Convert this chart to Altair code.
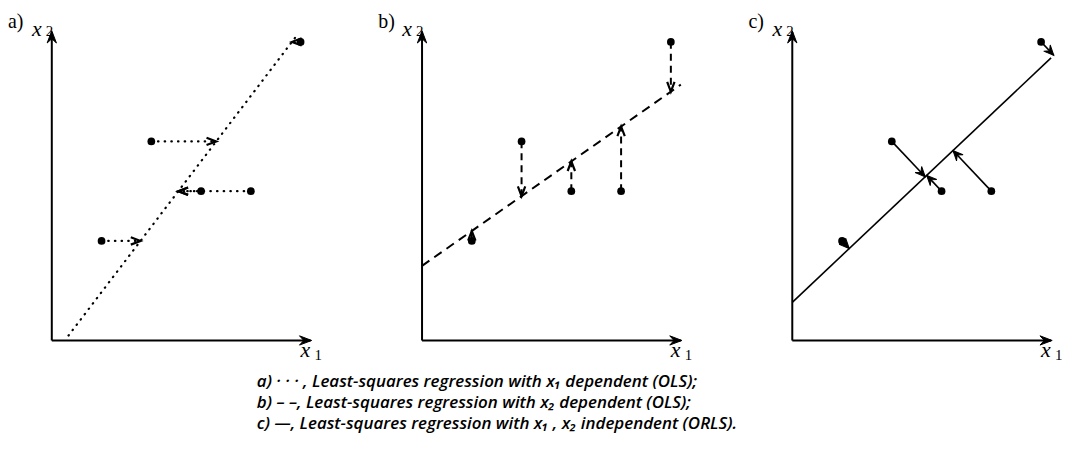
import numpy as np
import pandas as pd
import altair as alt

# ---- data (same five points in all panels) ----
X1 = [5, 10, 15, 20, 25]
X2 = [10, 20, 15, 15, 30]
LINE_A_X2 = [0.5, 30.5]   # extent of the x1-on-x2 fit line (along x2)
LINE_B_X1 = [0.0, 26.0]   # extent of the x2-on-x1 fit line (along x1)
LINE_C_X1 = [0.0, 26.0]   # extent of the orthogonal fit line (along x1)
AXIS_END = [26.0, 31.0]   # lengths of the x1 and x2 axes
PANEL_LABELS = ["a)", "b)", "c)"]
CAPTION = [
    "a) \u00b7 \u00b7 \u00b7 , Least-squares regression with x\u2081 dependent (OLS);",
    "b) \u2013 \u2013, Least-squares regression with x\u2082 dependent (OLS);",
    "c) \u2014, Least-squares regression with x\u2081 , x\u2082 independent (ORLS).",
]

# ---- regressions ----
x = np.array(X1, float)
y = np.array(X2, float)
mx, my = x.mean(), y.mean()
sxx = ((x - mx) ** 2).sum()
syy = ((y - my) ** 2).sum()
sxy = ((x - mx) * (y - my)).sum()

# a) x1 dependent
ba = sxy / syy
line_a = pd.DataFrame({"xa": [mx + ba * (LINE_A_X2[0] - my)], "ya": [LINE_A_X2[0]],
                       "xb": [mx + ba * (LINE_A_X2[1] - my)], "yb": [LINE_A_X2[1]]})
proj_a = (mx + ba * (y - my), y)

# b) x2 dependent
mb = sxy / sxx
line_b = pd.DataFrame({"xa": [LINE_B_X1[0]], "ya": [my + mb * (LINE_B_X1[0] - mx)],
                       "xb": [LINE_B_X1[1]], "yb": [my + mb * (LINE_B_X1[1] - mx)]})
proj_b = (x, my + mb * (x - mx))

# c) orthogonal
mc = (syy - sxx + np.sqrt((syy - sxx) ** 2 + 4 * sxy ** 2)) / (2 * sxy)
u0, u1 = 1 / np.sqrt(1 + mc ** 2), mc / np.sqrt(1 + mc ** 2)
t = (x - mx) * u0 + (y - my) * u1
line_c = pd.DataFrame({"xa": [LINE_C_X1[0]], "ya": [my + mc * (LINE_C_X1[0] - mx)],
                       "xb": [LINE_C_X1[1]], "yb": [my + mc * (LINE_C_X1[1] - mx)]})
proj_c = (mx + t * u0, my + t * u1)


def residuals(proj):
    px, py = proj
    ang = np.degrees(np.arctan2(px - x, py - y)) % 360
    return pd.DataFrame({"x": x, "y": y, "xe": px, "ye": py, "angle": ang})


XS = alt.Scale(domain=[-4.4, 26.6], nice=False, zero=False)
YS = alt.Scale(domain=[-10.4, 33.3], nice=False, zero=False)


def X(f):
    return alt.X(f, type="quantitative", scale=XS, axis=None)


def Y(f):
    return alt.Y(f, type="quantitative", scale=YS, axis=None)


CHEVRON = "M -0.38 1 L 0 0 L 0.38 1"
BARB = "M 0 0 L -0.45 1 L 0 0.62 L 0.45 1 Z"
BARB_UP = "M 0 -0.5 L -0.38 0.5 L 0 0.15 L 0.38 0.5 Z"
BARB_RIGHT = "M 0.5 0 L -0.5 -0.38 L -0.15 0 L -0.5 0.38 Z"

axes_df = pd.DataFrame({"x0": [0.0, 0.0], "y0": [0.0, 0.0],
                        "x1": [AXIS_END[0], 0.0], "y1": [0.0, AXIS_END[1]]})
xhead_df = pd.DataFrame({"hx": [AXIS_END[0]], "hy": [0.0]})
yhead_df = pd.DataFrame({"hx": [0.0], "hy": [AXIS_END[1]]})


def txt(text, px, py, **kw):
    return alt.Chart(pd.DataFrame({"t": [text]})).mark_text(
        align="left", baseline="alphabetic", color="black", **kw
    ).encode(text="t:N", x=alt.value(px), y=alt.value(py))


def head_layer(df, shape, size, dx=0, dy=0):
    return alt.Chart(df).mark_point(
        shape=shape, filled=True, size=size, fill="black", stroke="black",
        strokeWidth=1, opacity=1, xOffset=dx, yOffset=dy
    ).encode(x=X("hx"), y=Y("hy"))


def barb_layer(df, xf, yf, af, size):
    return alt.Chart(df).mark_point(
        shape=BARB, filled=True, size=size, fill="black", stroke="black",
        strokeWidth=1, strokeJoin="miter", opacity=1
    ).encode(x=X(xf), y=Y(yf), angle=alt.Angle(af, type="quantitative", scale=None))


def panel(i, line_df, res_df, line_dash, res_dash, line_w, cap, head_open, extra=()):
    layers = []
    layers.append(alt.Chart(axes_df).mark_rule(color="black", strokeWidth=2).encode(
        x=X("x0"), y=Y("y0"), x2="x1:Q", y2="y1:Q"))
    layers.append(head_layer(xhead_df, BARB_RIGHT, 600, dx=-5))
    layers.append(head_layer(yhead_df, BARB_UP, 600, dy=5))
    lk = dict(color="black", strokeWidth=line_w, strokeCap=cap)
    if line_dash:
        lk["strokeDash"] = line_dash
    layers.append(alt.Chart(line_df).mark_rule(**lk).encode(
        x=X("xa"), y=Y("ya"), x2="xb:Q", y2="yb:Q"))
    rk = dict(color="black", strokeWidth=line_w, strokeCap=cap)
    if res_dash:
        rk["strokeDash"] = res_dash
    layers.append(alt.Chart(res_df).mark_rule(**rk).encode(
        x=X("x"), y=Y("y"), x2="xe:Q", y2="ye:Q"))
    if head_open:
        layers.append(alt.Chart(res_df).mark_point(
            shape=CHEVRON, filled=False, strokeWidth=2.2, size=380, color="black", opacity=1
        ).encode(x=X("xe"), y=Y("ye"), angle=alt.Angle("angle:Q", scale=None)))
    else:
        layers.append(barb_layer(res_df, "xe", "ye", "angle", 400))
    layers.append(alt.Chart(res_df).mark_circle(size=60, color="black", opacity=1).encode(
        x=X("x"), y=Y("y")))
    layers.append(txt(PANEL_LABELS[i], 0, 19, font="Liberation Serif", fontSize=20))
    layers.append(txt("x", 24, 27, font="Liberation Serif", fontStyle="italic", fontSize=22))
    layers.append(txt("2", 38, 27, font="Liberation Serif", fontSize=15))
    layers.append(txt("x", 294, 350, font="Liberation Serif", fontStyle="italic", fontSize=22))
    layers.append(txt("1", 308, 353, font="Liberation Serif", fontSize=15))
    layers.extend(extra)
    return alt.layer(*layers).properties(width=310, height=437)


caption = [
    txt(line, -122, 380 + 21 * k, font="Open Sans", fontStyle="italic",
        fontWeight=600, fontSize=17)
    for k, line in enumerate(CAPTION)
]

pa = panel(0, line_a, residuals(proj_a), [0.5, 6.2], [0.5, 6.2], 2.2, "round", True)
pb = panel(1, line_b, residuals(proj_b), [9, 6], [7, 5], 2, "butt", True, extra=caption)
pc = panel(2, line_c, residuals(proj_c), None, None, 1.6, "butt", False)

chart = alt.hconcat(pa, pb, pc, spacing=62, bounds="flush").properties(
    padding=0
).configure_view(stroke=None)

chart.save("out.html", embed_options={"renderer": "svg", "actions": False})
